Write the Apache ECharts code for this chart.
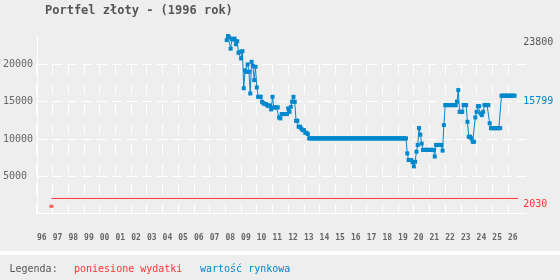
<!DOCTYPE html>
<html><head><meta charset="utf-8">
<script src="https://cdn.jsdelivr.net/npm/echarts@6/dist/echarts.min.js"></script>
<style>html,body{margin:0;padding:0;background:#eeeeee}#c{width:560px;height:280px}</style>
</head><body><div id="c"></div>
<script>
const titleText = 'Portfel złoty - (1996 rok)';
const legendTitle = 'Legenda:';
const redName = 'poniesione wydatki';
const blueName = 'wartość rynkowa';
const xFirstYear = 1996;
const xLastYear = 2026;
const yTicks = [5000, 10000, 15000, 20000];

// market value, monthly, starting Feb 2008
const blueStartYear = 2008;
const blueStartMonth = 2;
const blueValues = [
  23250, 23800, 23600, 22100, 23400, 23300, 23450, 22700, 23100, 21540, 21680,
  20800, 21770, 16800, 19200, 19000, 19990, 19000, 16100, 20340, 19800, 17890, 19670,
  16910, 15650, 15650, 15650, 14980, 14800, 14680, 14680, 14500, 14410, 14500, 13960,
  15650, 14230, 14230, 14230, 14230, 12890, 12760, 13340, 13340, 13340, 13340, 13340,
  14100, 13640, 14300, 15000, 15650, 14980, 12440, 12440, 11640, 11640, 11400, 11190,
  11190, 10830, 10830, 10660, 10080, 10080, 10080, 10080, 10080, 10080, 10080, 10080,
  10080, 10080, 10080, 10080, 10080, 10080, 10080, 10080, 10080, 10080, 10080, 10080,
  10080, 10080, 10080, 10080, 10080, 10080, 10080, 10080, 10080, 10080, 10080, 10080,
  10080, 10080, 10080, 10080, 10080, 10080, 10080, 10080, 10080, 10080, 10080, 10080,
  10080, 10080, 10080, 10080, 10080, 10080, 10080, 10080, 10080, 10080, 10080, 10080,
  10080, 10080, 10080, 10080, 10080, 10080, 10080, 10080, 10080, 10080, 10080, 10080,
  10080, 10080, 10080, 10080, 10080, 10080, 10080, 8070, 7180, 7180, 7180, 6900,
  6330, 6950, 8300, 9200, 11460, 10570, 9380, 8540, 8540, 8540, 8540, 8540,
  8540, 8540, 8540, 8540, 7650, 9200, 9200, 9200, 9200, 9200, 8440, 11860,
  14540, 14540, 14540, 14540, 14540, 14540, 14540, 14540, 14540, 15000, 16550, 13640,
  13640, 13640, 14540, 14540, 14540, 12300, 10300, 10300, 10080, 9630, 9630, 12890,
  13640, 14400, 14400, 13430, 13200, 13640, 14540, 14540, 14540, 14540, 12100, 11450,
  11450, 11450, 11450, 11450, 11450, 11450, 11450, 15799, 15799, 15799, 15799, 15799,
  15799, 15799, 15799, 15799, 15799, 15799
];

// costs incurred
const redFirstPoint = [1996.92, 980];
const redLine = [[1996.92, 2030], [2026.64, 2030]];

const BG = '#eeeeee';
const BLUE = '#0088cc';
const RED = '#ff3333';
const GREY = '#555555';
const MONO = '"DejaVu Sans Mono", "Liberation Mono", monospace';

const blueData = blueValues.map((v, i) => [blueStartYear + (blueStartMonth - 1 + i) / 12, v]);
const yMax = Math.max(...blueValues);
const lastBlue = blueValues[blueValues.length - 1];
const lastRed = redLine[redLine.length - 1][1];

const plotLeft = 36.7, pxPerYear = 15.71, plotRight = 526, plotTop = 36, plotBottom = 213.6;
const xMax0 = xFirstYear + (plotRight - plotLeft) / pxPerYear;
const gridTop1 = plotBottom - (plotBottom - plotTop) * 20000 / yMax;

const chart = echarts.init(document.getElementById('c'), null, {renderer: 'canvas'});
const hSplitColors = [];
for (let i = 0; i < 5; i++) hSplitColors.push('#ffffff');
hSplitColors.push('rgba(0,0,0,0)');

chart.setOption({
  backgroundColor: BG,
  animation: false,
  title: {
    text: titleText, left: 45, top: 5, padding: 0,
    textStyle: {fontFamily: MONO, fontWeight: 'bold', fontSize: 12, color: GREY}
  },
  grid: [
    {left: plotLeft, top: plotTop, width: plotRight - plotLeft, height: plotBottom - plotTop},
    {left: plotLeft, top: gridTop1, width: (xLastYear - xFirstYear) * pxPerYear, height: plotBottom - gridTop1}
  ],
  xAxis: [
    {
      type: 'value', gridIndex: 0, min: xFirstYear, max: xMax0, interval: 1,
      axisLine: {show: true, lineStyle: {color: '#ffffff', width: 1}},
      axisTick: {show: false},
      splitLine: {show: false},
      axisLabel: {
        show: true, align: 'left', margin: 20,
        fontFamily: MONO, fontSize: 8, fontWeight: 'bold', color: '#666666',
        formatter: v => (v > xLastYear || v !== Math.round(v)) ? '' : String(v % 100).padStart(2, '0')
      }
    },
    {
      type: 'value', gridIndex: 1, min: xFirstYear, max: xLastYear, interval: 1,
      axisLine: {show: false}, axisTick: {show: false}, axisLabel: {show: false},
      splitLine: {show: true, lineStyle: {color: '#ffffff', width: 1, type: [10, 10]}}
    }
  ],
  yAxis: [
    {
      type: 'value', gridIndex: 0, min: 0, max: yMax, interval: 5000,
      axisLine: {show: true, lineStyle: {color: '#ffffff', width: 1}},
      axisTick: {show: false},
      splitLine: {show: true, lineStyle: {color: hSplitColors, width: 1, type: [10, 5]}},
      axisLabel: {
        show: true, align: 'left', margin: 34, verticalAlign: 'middle', padding: [6, 0, 0, 0],
        fontFamily: MONO, fontSize: 10, color: '#666666',
        formatter: v => yTicks.indexOf(v) >= 0 ? String(v) : ''
      }
    },
    {
      type: 'value', gridIndex: 1, min: 0, max: 20000, interval: 5000, show: false
    }
  ],
  series: [
    {
      name: redName, type: 'line', xAxisIndex: 0, yAxisIndex: 0,
      data: redLine, showSymbol: false, silent: true,
      lineStyle: {color: RED, width: 1}, itemStyle: {color: RED}
    },
    {
      name: redName, type: 'scatter', xAxisIndex: 0, yAxisIndex: 0,
      data: [redFirstPoint], symbol: 'rect', symbolSize: [4, 3], silent: true,
      itemStyle: {color: RED}
    },
    {
      name: blueName, type: 'line', xAxisIndex: 0, yAxisIndex: 0,
      data: blueData, symbol: 'rect', symbolSize: 4, showSymbol: true, showAllSymbol: true,
      silent: true,
      lineStyle: {color: BLUE, width: 1}, itemStyle: {color: BLUE}
    }
  ]
});

const xLab = chart.convertToPixel({xAxisIndex: 0, yAxisIndex: 0}, [2027, 0])[0] - 0.5;
function yPix(v) { return chart.convertToPixel({xAxisIndex: 0, yAxisIndex: 0}, [xFirstYear, v])[1]; }
const sideLabels = [
  {text: String(yMax), v: yMax, color: GREY},
  {text: String(lastBlue), v: lastBlue, color: BLUE},
  {text: String(lastRed), v: lastRed, color: RED}
];
const graphics = sideLabels.map(l => ({
  type: 'text', x: xLab, y: yPix(l.v) + 1,
  style: {text: l.text, fill: l.color, font: '10px ' + MONO, textVerticalAlign: 'top', textAlign: 'left'}
}));
graphics.push({type: 'rect', shape: {x: 0, y: 251, width: 560, height: 4}, style: {fill: '#ffffff'}});
graphics.push({type: 'text', x: 9.5, y: 269, style: {text: legendTitle, fill: GREY, font: '10px ' + MONO, textVerticalAlign: 'middle'}});
graphics.push({type: 'text', x: 74, y: 269, style: {text: redName, fill: RED, font: '10px ' + MONO, textVerticalAlign: 'middle'}});
graphics.push({type: 'text', x: 200, y: 269, style: {text: blueName, fill: BLUE, font: '10px ' + MONO, textVerticalAlign: 'middle'}});
chart.setOption({graphic: graphics});
</script>
</body></html>
